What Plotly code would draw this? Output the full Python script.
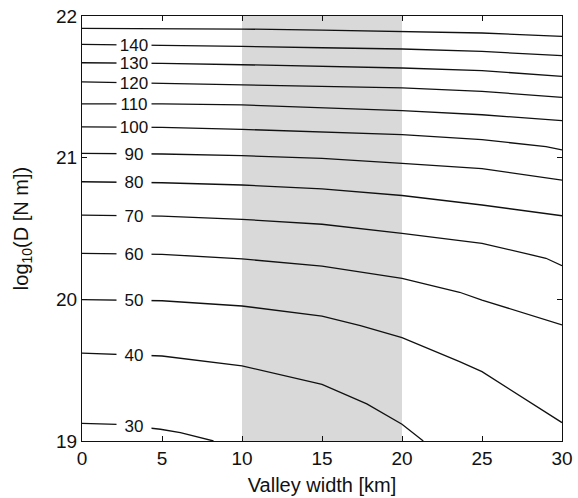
import numpy as np
import plotly.graph_objects as go

# Valley width [km] sample points (shared grid)
width_km = [0, 5, 10, 15, 20, 25, 30]

# log10(D) along each contour (labelled by its value)
logD_150 = [21.913, 21.913, 21.908, 21.900, 21.892, 21.880, 21.856]
logD_140 = [21.800, 21.795, 21.786, 21.776, 21.767, 21.750, 21.720]
logD_130 = [21.670, 21.666, 21.656, 21.646, 21.633, 21.614, 21.574]
logD_120 = [21.535, 21.525, 21.515, 21.503, 21.492, 21.468, 21.426]
logD_110 = [21.380, 21.379, 21.372, 21.352, 21.332, 21.303, 21.261]
width_100 = [0, 5, 10, 15, 20, 25, 29, 30]
logD_100 = [21.217, 21.214, 21.200, 21.183, 21.162, 21.127, 21.078, 21.055]
logD_90 = [21.030, 21.026, 21.014, 20.995, 20.960, 20.922, 20.842]
logD_80 = [20.830, 20.823, 20.807, 20.780, 20.733, 20.666, 20.590]
width_70 = [0, 5, 10, 15, 20, 25, 29, 30]
logD_70 = [20.595, 20.588, 20.565, 20.530, 20.466, 20.395, 20.290, 20.237]
width_60 = [0, 5, 10, 15, 20, 23.6, 25, 30]
logD_60 = [20.325, 20.318, 20.285, 20.235, 20.148, 20.050, 19.995, 19.820]
width_50 = [0, 5, 10, 15, 17.4, 20, 23.6, 25, 30]
logD_50 = [19.998, 19.990, 19.953, 19.882, 19.814, 19.730, 19.560, 19.490, 19.130]
width_40 = [0, 5, 10, 12.5, 15, 17.8, 20, 21.33]
logD_40 = [19.620, 19.600, 19.530, 19.465, 19.400, 19.262, 19.118, 19.0]
width_30 = [0, 2.2, 4.9, 6.15, 8.22]
logD_30 = [19.125, 19.118, 19.083, 19.059, 19.0]

# shaded valley-width band
band_start, band_end = 10, 20

contours = [
    (150, width_km, logD_150, False),
    (140, width_km, logD_140, True),
    (130, width_km, logD_130, True),
    (120, width_km, logD_120, True),
    (110, width_km, logD_110, True),
    (100, width_100, logD_100, True),
    (90, width_km, logD_90, True),
    (80, width_km, logD_80, True),
    (70, width_70, logD_70, True),
    (60, width_60, logD_60, True),
    (50, width_50, logD_50, True),
    (40, width_40, logD_40, True),
    (30, width_30, logD_30, True),
]

label_x = 3.25
FONT = "Liberation Sans, Arial, Helvetica, sans-serif"

fig = go.Figure()
annotations = []
for level, xs, ys, labelled in contours:
    fig.add_trace(go.Scatter(x=xs, y=ys, mode="lines",
                             line=dict(color="#111111", width=1.3),
                             showlegend=False, hoverinfo="skip"))
    if labelled:
        annotations.append(dict(x=label_x, y=float(np.interp(label_x, xs, ys)),
                                xref="x", yref="y", text=str(level), showarrow=False,
                                font=dict(size=17, color="#111111", family=FONT),
                                bgcolor="white", borderpad=0, height=14, width=34,
                                xanchor="center", yanchor="middle"))

fig.add_shape(type="rect", xref="x", yref="paper", x0=band_start, x1=band_end,
              y0=0, y1=1, fillcolor="#d9d9d9", line=dict(width=0), layer="below")

fig.update_layout(
    width=578, height=498,
    margin=dict(l=82, r=16, t=16, b=57, autoexpand=False),
    paper_bgcolor="white", plot_bgcolor="white",
    font=dict(family=FONT, size=19, color="#111111"),
    annotations=annotations,
)
fig.update_xaxes(range=[0, 30], tickvals=[0, 5, 10, 15, 20, 25, 30],
                 ticks="inside", ticklen=5, tickcolor="#111111",
                 showline=True, linecolor="#111111", linewidth=1, mirror="ticks",
                 showgrid=False, zeroline=False, automargin=False,
                 title=dict(text="Valley width [km]", font=dict(size=20), standoff=10),
                 tickfont=dict(size=19))
fig.update_yaxes(range=[19, 22], tickvals=[19, 20, 21, 22],
                 ticks="inside", ticklen=5, tickcolor="#111111",
                 showline=True, linecolor="#111111", linewidth=1, mirror="ticks",
                 showgrid=False, zeroline=False, automargin=False,
                 title=dict(text="log<sub>10</sub>(D [N m])", font=dict(size=20), standoff=22),
                 tickfont=dict(size=19))

fig.write_html("out.html", config={"displayModeBar": False},
               post_script="document.body.style.margin='0';document.body.style.overflow='hidden';")
